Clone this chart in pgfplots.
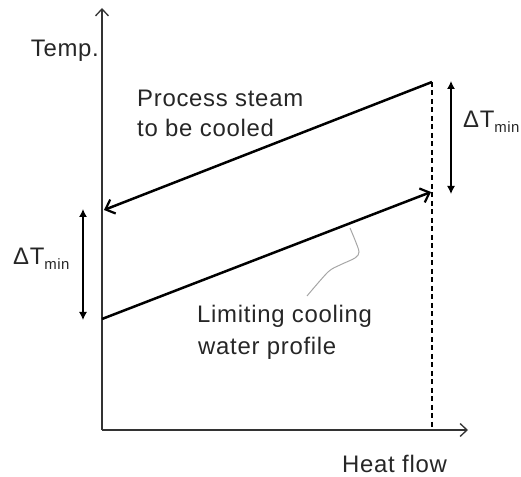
\documentclass[border=0pt]{standalone}
\usepackage{fontspec}
\setmainfont{Liberation Sans}[LetterSpace=3]
\usepackage{pgfplots}
\pgfplotsset{compat=1.18}
\usetikzlibrary{arrows.meta}
\newcommand{\dtmin}{ΔT{\fontsize{15}{15}\selectfont\raisebox{-0.28em}{min}}}
\tikzset{lbl/.style={font=\fontsize{24}{28}\selectfont, text=black!85, inner sep=0pt}}
\begin{document}
\begin{tikzpicture}
\begin{axis}[
  scale only axis,
  width=366bp, height=422bp,
  xmin=0, xmax=366, ymin=0, ymax=422,
  axis lines=left,
  axis line style={line width=1.3bp, black!80, -{Straight Barb[length=7bp,width=13bp,line width=1.3bp]}},
  xtick=\empty, ytick=\empty,
  clip=false,
]
% process steam (cooled): from right to left
\addplot[line width=2.5bp, black, -{Straight Barb[length=8bp,width=15bp,line width=2.2bp]}]
  coordinates {(330,348) (2,220)};
% limiting cooling water profile
\addplot[line width=2.5bp, black, -{Straight Barb[length=8bp,width=15bp,line width=2.2bp]}]
  coordinates {(0,111) (329,238)};
% dashed vertical
\addplot[line width=1.3bp, black, dash pattern=on 5bp off 3.5bp]
  coordinates {(330,348) (330,0)};
% Delta T arrows
\addplot[line width=1.3bp, black, {Latex[length=8bp,width=8bp]}-{Latex[length=8bp,width=8bp]}]
  coordinates {(349,349) (349,236)};
\addplot[line width=1.3bp, black, {Latex[length=8bp,width=8bp]}-{Latex[length=8bp,width=8bp]}]
  coordinates {(-19,221) (-19,110)};
% leader line
\addplot[line width=1bp, gray!70, smooth]
  coordinates {(248,202) (253,190) (257,178) (253,172) (238,165) (226,158) (205,134)};
% texts
\node[lbl, anchor=base east] at (axis cs:-3,373) {Temp.};
\node[lbl, anchor=base west] at (axis cs:35,323) {Process steam};
\node[lbl, anchor=base west] at (axis cs:35,293) {to be cooled};
\node[lbl, anchor=base west] at (axis cs:95,107) {Limiting cooling};
\node[lbl, anchor=base west] at (axis cs:96,75) {water profile};
\node[lbl, anchor=base west] at (axis cs:240,-42) {Heat flow};
\node[lbl, anchor=base west] at (axis cs:361,302) {\dtmin};
\node[lbl, anchor=base west] at (axis cs:-89,165) {\dtmin};
\coordinate (bl) at (axis cs:-102,-47);
\coordinate (tr) at (axis cs:419,430);
\end{axis}
\pgfresetboundingbox
\useasboundingbox (bl) rectangle (tr);
\end{tikzpicture}
\end{document}
